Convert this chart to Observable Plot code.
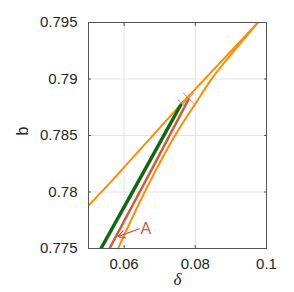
<!DOCTYPE html>
<html>
<head>
<meta charset="utf-8">
<script src="https://cdn.jsdelivr.net/npm/d3@7"></script>
<script src="https://cdn.jsdelivr.net/npm/@observablehq/plot@0.6"></script>
<style>
  html, body { margin: 0; padding: 0; background: #fff; }
  svg { display: block; }
</style>
</head>
<body>
<div id="chart"></div>
<script>
// ---- data ----
const xTicks = [0.06, 0.08, 0.1];
const yTicks = [0.775, 0.78, 0.785, 0.79, 0.795];

const upperOrangeDelta = [0.05, 0.0563, 0.0755, 0.0976];
const upperOrangeB     = [0.7788, 0.7809, 0.7876, 0.795];

const lowerOrangeDelta = [0.0583, 0.0658, 0.0743, 0.0800, 0.0848, 0.0909, 0.0976];
const lowerOrangeB     = [0.775, 0.7800, 0.7850, 0.7878, 0.7901, 0.7925, 0.795];

const greenDelta = [0.0535, 0.0657, 0.0759];
const greenB     = [0.775, 0.7819, 0.7877];

const redDelta = [0.0559, 0.0681, 0.0781];
const redB     = [0.775, 0.7822, 0.7882];

const greenMarkDelta = [0.0760];
const greenMarkB     = [0.7879];
const redMarkDelta = [0.0781];
const redMarkB     = [0.7883];

const annText = ["A"];
const annTextDelta = [0.0661];
const annTextB = [0.7767];
const annArrowFrom = [[0.0643, 0.77675]];
const annArrowTo   = [[0.0583, 0.77605]];

const toPts = (xs, ys) => xs.map((x, i) => ({x, y: ys[i]}));

const fmt = d => String(+d.toFixed(4));

const chart = Plot.plot({
  width: 294,
  height: 292,
  marginLeft: 88,
  marginRight: 28,
  marginTop: 22,
  marginBottom: 44,
  style: {fontFamily: "'Liberation Sans', Arial, Helvetica, sans-serif", fontSize: "15px", background: "#fff", color: "#262626"},
  x: {domain: [0.05, 0.1]},
  y: {domain: [0.775, 0.795]},
  marks: [
    Plot.gridX(xTicks, {stroke: "#e3e3e3", strokeOpacity: 1, strokeWidth: 1}),
    Plot.gridY(yTicks, {stroke: "#e3e3e3", strokeOpacity: 1, strokeWidth: 1}),
    Plot.axisX(xTicks, {tickSize: 0, tickPadding: 10, tickFormat: fmt, label: null, fill: "#262626"}),
    Plot.axisY(yTicks, {tickSize: 0, tickPadding: 11, tickFormat: fmt, label: null, fill: "#262626"}),
    Plot.axisX(xTicks, {anchor: "bottom", tickSize: -3, tickFormat: () => "", label: null, stroke: "#555"}),
    Plot.axisX(xTicks, {anchor: "top", tickSize: -3, tickFormat: () => "", label: null, stroke: "#555"}),
    Plot.axisY(yTicks, {anchor: "left", tickSize: -3, tickFormat: () => "", label: null, stroke: "#555"}),
    Plot.axisY(yTicks, {anchor: "right", tickSize: -3, tickFormat: () => "", label: null, stroke: "#555"}),
    Plot.line(toPts(upperOrangeDelta, upperOrangeB), {x: "x", y: "y", stroke: "#ff8c00", strokeWidth: 2, clip: true}),
    Plot.line(toPts(lowerOrangeDelta, lowerOrangeB), {x: "x", y: "y", stroke: "#ff8c00", strokeWidth: 2, clip: true, curve: "catmull-rom"}),
    Plot.line(toPts(redDelta, redB), {x: "x", y: "y", stroke: "#cf5a42", strokeWidth: 2.5, clip: true}),
    Plot.line(toPts(greenDelta, greenB), {x: "x", y: "y", stroke: "#0e6a0e", strokeWidth: 3.5, clip: true}),
    Plot.dot(toPts(greenMarkDelta, greenMarkB), {x: "x", y: "y", symbol: "times", r: 3, stroke: "#5fae5f", strokeWidth: 1}),
    Plot.dot(toPts(redMarkDelta, redMarkB), {x: "x", y: "y", symbol: "times", r: 5, stroke: "#e0725c", strokeWidth: 1}),
    Plot.arrow(annArrowFrom.map((a, i) => ({x1: a[0], y1: a[1], x2: annArrowTo[i][0], y2: annArrowTo[i][1]})),
      {x1: "x1", y1: "y1", x2: "x2", y2: "y2", stroke: "#d0553c", strokeWidth: 1.2, headLength: 10}),
    Plot.text(annText.map((t, i) => ({t, x: annTextDelta[i], y: annTextB[i]})),
      {x: "x", y: "y", text: "t", fill: "#d0553c", fontSize: 16}),
    Plot.frame({stroke: "#555", strokeWidth: 1}),
    Plot.text(["δ"], {frameAnchor: "bottom", dy: 36, text: d => d, fontStyle: "italic", fontFamily: "'Liberation Serif', 'DejaVu Serif', serif", fontSize: 17, fill: "#262626"}),
    Plot.text(["b"], {frameAnchor: "left", dx: -66, rotate: -90, text: d => d, fontSize: 16, fill: "#262626"})
  ]
});
document.getElementById("chart").appendChild(chart);
</script>
</body>
</html>
